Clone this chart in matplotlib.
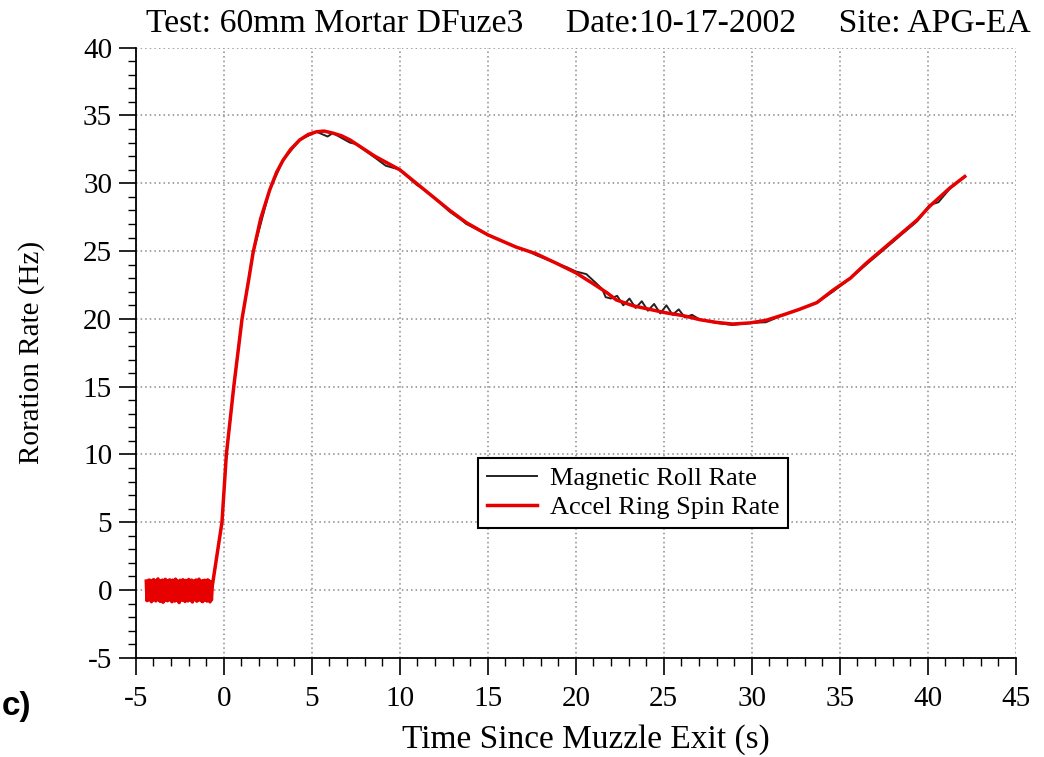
import numpy as np
import matplotlib
matplotlib.use('Agg')
import matplotlib.pyplot as plt
from matplotlib.ticker import MultipleLocator

plt.rcParams['font.family'] = ['Liberation Serif', 'DejaVu Serif']
plt.rcParams['axes.unicode_minus'] = False

# accel ring, pre-launch noise (about 0 Hz), sampled between -4.4 s and -0.7 s
noise_val = [0.66, -0.78, 0.58, -0.72, 0.74, -0.64, 0.70, -0.86, 0.55, -0.75,
             0.77, -0.68, 0.62, -0.80, 0.71, -0.61, 0.82, -0.74, 0.60, -0.83,
             0.68, -0.66, 0.73, -0.90, 0.57, -0.77, 0.79, -0.70, 0.65, -0.79,
             0.70, -0.63, 0.75, -0.75, 0.63, -0.86, 0.73, -0.65, 0.60, -0.81,
             0.80, -0.69, 0.67, -0.78, 0.61, -0.92, 0.72, -0.67, 0.69, -0.76,
             0.76, -0.62, 0.64, -0.84, 0.71, -0.71, 0.58, -0.80, 0.78, -0.66,
             0.66, -0.77, 0.73, -0.88, 0.62, -0.72, 0.69, -0.68, 0.74, -0.82,
             0.57, -0.75, 0.80, -0.64, 0.67, -0.79, 0.64, -0.85, 0.70, -0.70,
             0.72, -0.74, 0.61, -0.81, 0.75, -0.67, 0.66, -0.87, 0.59, -0.73]
noise_t = np.linspace(-4.4, -0.7, len(noise_val))

# accel ring spin rate after muzzle exit
accel_t = [-0.65, -0.1, 0.15, 0.57, 1.04, 1.42, 1.67, 2.1, 2.61, 3.0, 3.37, 3.8,
           4.32, 4.8, 5.27, 5.7, 6.2, 6.7, 7.17, 8.58, 10.0, 10.95, 11.9, 12.84,
           13.78, 15.0, 16.6, 17.75, 18.9, 20.0, 21.1, 21.8, 22.3, 23.25, 24.2,
           25.15, 26.1, 27.05, 28.0, 28.9, 29.9, 30.8, 31.8, 32.7, 33.7, 34.6,
           35.6, 36.5, 37.5, 38.4, 39.4, 40.1, 41.25, 42.1]
accel_hz = [0.3, 5.0, 10.0, 15.0, 20.0, 22.9, 24.9, 27.4, 29.5, 30.8, 31.7, 32.5,
            33.2, 33.6, 33.8, 33.85, 33.7, 33.5, 33.2, 32.0, 31.0, 30.0, 29.0, 28.0,
            27.1, 26.2, 25.3, 24.8, 24.1, 23.4, 22.5, 21.9, 21.4, 20.97, 20.7,
            20.44, 20.24, 19.94, 19.74, 19.62, 19.7, 19.89, 20.3, 20.7, 21.2, 22.1,
            23.0, 24.1, 25.2, 26.2, 27.3, 28.3, 29.65, 30.5]

# magnetic roll rate
mag_t = [0.08, 0.57, 1.04, 1.67, 2.61, 3.37, 4.32, 5.27, 5.9, 6.2, 7.17, 7.5,
         8.58, 9.2, 10.0, 10.95, 11.3, 11.9, 12.84, 13.5, 13.78, 15.0, 16.6, 17.3,
         17.75, 18.9, 19.5, 20.0, 20.6, 21.1, 21.5, 21.7, 22.0, 22.35, 22.7, 23.05,
         23.4, 23.75, 24.1, 24.45, 24.8, 25.15, 25.5, 25.85, 26.2, 26.6, 27.05,
         28.0, 28.9, 29.9, 30.8, 31.8, 32.7, 33.7, 34.6, 35.6, 36.5, 37.5, 38.4,
         39.4, 40.1, 40.6, 41.25, 42.0]
mag_hz = [9.0, 15.0, 20.0, 24.9, 29.5, 31.7, 33.2, 33.8, 33.45, 33.7, 33.0, 32.9,
          31.9, 31.3, 31.0, 29.9, 29.6, 29.0, 27.9, 27.3, 27.0, 26.2, 25.3, 25.0,
          24.7, 24.1, 23.8, 23.5, 23.3, 22.7, 22.2, 21.6, 21.5, 21.7, 21.0, 21.5,
          20.8, 21.3, 20.6, 21.1, 20.4, 21.0, 20.3, 20.7, 20.1, 20.3, 19.95,
          19.7, 19.55, 19.7, 19.75, 20.3, 20.7, 21.2, 22.0, 23.0, 24.0, 25.1, 26.1,
          27.2, 28.4, 28.6, 29.6, 30.4]

title_txt = 'Test: 60mm Mortar DFuze3     Date:10-17-2002     Site: APG-EA'

fig = plt.figure(figsize=(10.44, 7.57), dpi=100, facecolor='white')
ax = fig.add_axes([0.130, 0.131, 0.843, 0.806])

red_t = np.concatenate([noise_t, accel_t])
red_hz = np.concatenate([noise_val, accel_hz])

ax.plot(mag_t, mag_hz, color='#222222', lw=1.4, label='Magnetic Roll Rate', zorder=3)
ax.plot(red_t, red_hz, color='#e60000', lw=2.5, label='Accel Ring Spin Rate', zorder=4)

ax.set_xlim(-5, 45)
ax.set_ylim(-5, 40)
ax.xaxis.set_major_locator(MultipleLocator(5))
ax.xaxis.set_minor_locator(MultipleLocator(1))
ax.yaxis.set_major_locator(MultipleLocator(5))
ax.yaxis.set_minor_locator(MultipleLocator(1))

ax.grid(True, which='major', color='#8a8a8a', linestyle=(0, (1, 2)), lw=1.1)
ax.spines['top'].set_visible(False)
ax.spines['right'].set_visible(False)
for s in ('left', 'bottom'):
    ax.spines[s].set_linewidth(1.3)
ax.tick_params(which='major', direction='out', length=12, width=1.2, labelsize=21)
ax.tick_params(axis='x', which='major', pad=8)
ax.tick_params(axis='y', which='major', pad=5)
ax.tick_params(which='minor', direction='out', length=6, width=1.0)

ax.set_xlabel('Time Since Muzzle Exit (s)', fontsize=24)
ax.set_ylabel('Roration Rate (Hz)', fontsize=21)
ax.xaxis.set_label_coords(0.511, -0.108)
ax.yaxis.set_label_coords(-0.103, 0.5)
fig.text(0.564, 0.968, title_txt, ha='center', va='center', fontsize=24.3)

leg = fig.legend(loc='upper left', bbox_to_anchor=(0.458, 0.395), fontsize=19,
                 frameon=True, fancybox=False, framealpha=1, edgecolor='black',
                 handlelength=1.9, handletextpad=0.5, labelspacing=0.2,
                 borderpad=0.33, borderaxespad=0)
leg.get_frame().set_linewidth(1.5)

fig.text(0.002, 0.067, 'c)', ha='left', va='center', fontsize=24,
         fontweight='bold', family=['Liberation Sans', 'DejaVu Sans'])

fig.savefig('out.png', dpi=100, facecolor='white')
